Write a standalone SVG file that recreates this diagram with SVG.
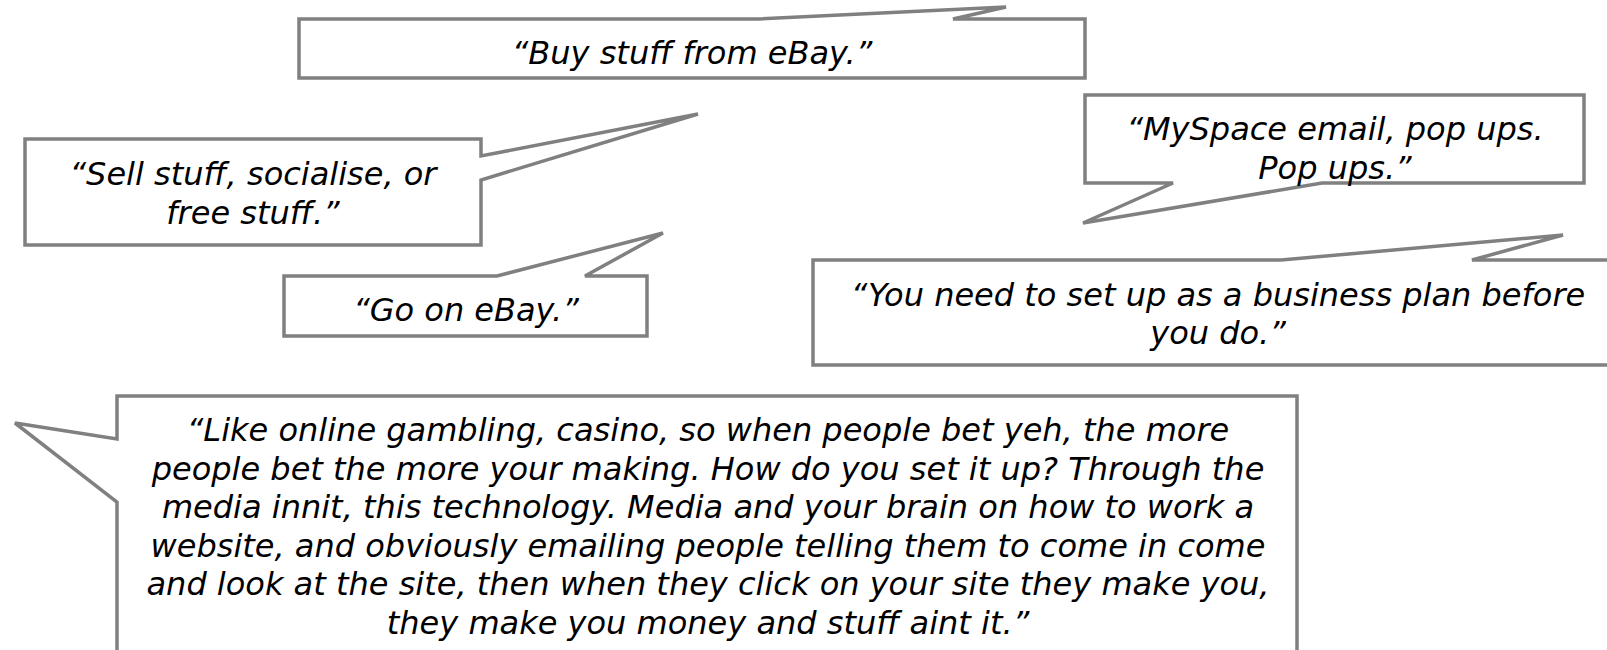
<svg xmlns="http://www.w3.org/2000/svg" width="1607" height="650" viewBox="0 0 1607 650">
  <style>
    .bubble { fill: #ffffff; stroke: #808080; stroke-width: 3.5; stroke-linejoin: miter; }
    .quote { font-family: "DejaVu Sans", Verdana, sans-serif; font-style: italic; font-size: 32px; fill: #000000; text-anchor: middle; }
  </style>
  <rect x="0" y="0" width="1607" height="650" fill="#ffffff"/>

  <!-- speech bubbles: rectangle outline with a tail cut into one side -->
  <g id="bubble-buy">
    <path class="bubble" d="M299,19 H758 L1006,7 L953,19 H1085 V78 H299 Z"/>
    <text class="quote" x="692" y="64">“Buy stuff from eBay.”</text>
  </g>

  <g id="bubble-sell">
    <path class="bubble" d="M25,139 H481 V156 L698,114 L481,180 V245 H25 Z"/>
    <text class="quote" x="253" y="185">“Sell stuff, socialise, or</text>
    <text class="quote" x="253" y="224">free stuff.”</text>
  </g>

  <g id="bubble-go">
    <path class="bubble" d="M284,276 H497 L663,233 L585,276 H647 V336 H284 Z"/>
    <text class="quote" x="466" y="321">“Go on eBay.”</text>
  </g>

  <g id="bubble-myspace">
    <path class="bubble" d="M1085,95 H1584 V183 H1322 L1083,223 L1173,183 H1085 Z"/>
    <text class="quote" x="1335" y="140">“MySpace email, pop ups.</text>
    <text class="quote" x="1335" y="179">Pop ups.”</text>
  </g>

  <g id="bubble-business">
    <path class="bubble" d="M813,260 H1281 L1563,235 L1472,260 H1625 V365 H813 Z"/>
    <text class="quote" x="1218" y="306">“You need to set up as a business plan before</text>
    <text class="quote" x="1218" y="344">you do.”</text>
  </g>

  <g id="bubble-gambling">
    <path class="bubble" d="M117,396 H1297 V680 H117 V502 L15,423 L117,439 Z"/>
    <text class="quote" x="708" y="441">“Like online gambling, casino, so when people bet yeh, the more</text>
    <text class="quote" x="708" y="480">people bet the more your making. How do you set it up? Through the</text>
    <text class="quote" x="708" y="518">media innit, this technology. Media and your brain on how to work a</text>
    <text class="quote" x="708" y="557">website, and obviously emailing people telling them to come in come</text>
    <text class="quote" x="708" y="595">and look at the site, then when they click on your site they make you,</text>
    <text class="quote" x="708" y="634">they make you money and stuff aint it.”</text>
  </g>

  <g id="connectors"/>
</svg>
